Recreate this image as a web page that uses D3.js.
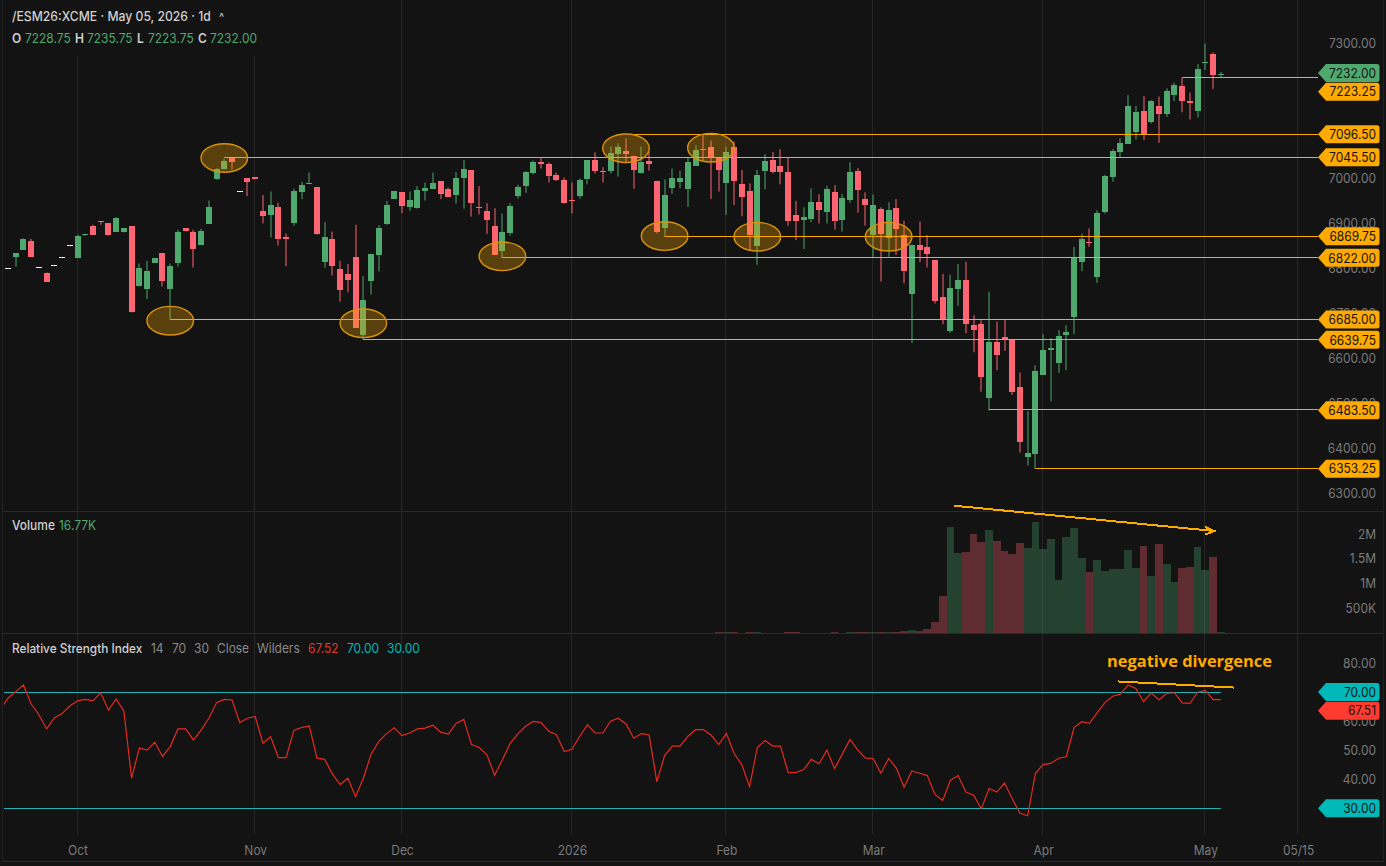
<!DOCTYPE html>
<html>
<head>
<meta charset="utf-8">
<script src="https://cdn.jsdelivr.net/npm/d3@7"></script>
<style>
  html, body { margin: 0; padding: 0; background: #131313; overflow: hidden; }
  text { font-family: Inter, "Noto Sans", sans-serif; }
</style>
</head>
<body>
<svg id="chart" width="1386" height="866"></svg>
<script>
// daily OHLC
var opens = [6801,6825,6840,6860,6801.5,6790,6807,6824,6850,6822,6873,6894,6904,6899,6881,6879,6893,6759,6752,6812,
  6833,6755,6811,6888,6880,6852,6899,6996,7019,7045,6970,6999,7002,6926,6916,6935,6870,6901,6970,6988,
  6979,6813,6864,6797,6787,6824,6651,6770,6830,6896,6953,6968,6936,6934,6970,6976,6993,6976,6964,6999,
  7017,6935,6927,6893,6836,6876,6961,6981,7010,7035,7032,7006,6996,6951,6960,6996,7039,7016,7016,7055,
  7061,7050,7010,7037,6994,6890,6977,6990,6976,7027,7064,7070,7046,6988,7070,6986,6970,6848,7014,7040,
  7027,7013,6917,6906,6910,6946,6925,6969,6907,6951,7015,6954,6873,6931,6865,6933,6873,6743,6850,6846,
  6818,6735,6661,6752,6774,6673,6675,6510,6635,6647,6641,6536,6381,6386,6562,6618,6590,6651,6690,6814,
  6858,6780,6924,7003,7056,7076,7102,7150,7124,7161,7143,7184,7204,7172,7150,7255,7276,7228.75];
var highs = [6801,6833,6866,6865,6801.5,6790,6807,6824,6850,6874,6876,6896,6904,6899,6913,6888,6893,6810,6816,6822,
  6833,6810,6885,6888,6885,6887,6950,7022,7042,7045.5,6970,6999,7002,6962,6970,6945,6877,6976,6992,7012,
  6979,6902,6881,6816,6809,6896,6782,6831,6895,6949,6970,6968,6970,6982,6990,7012,6993,6979,7013,7040,
  7017,6982,6944,6933,6921,6944,6985,7015,7039,7045,7035,7012,7001,6990,6999,7040,7057,7024,7070,7077,
  7088,7050,7070,7059,6994,6997,7021,7016,7047,7073,7096,7083,7046,7070,7081,7018,6988,7018,7053,7058,
  7064,7045,6949,6935,6977,6964,6983,6984,6964,7035,7022,6968,6963,6935,6946,6953,6905,6852,6903,6873,
  6818,6787,6785,6809,6814,6695,6684,6747,6681,6685,6641,6568,6482,6584,6653,6644,6662,6673,6847,6876,
  6888,6928,7007,7064,7088,7184,7160,7182,7173,7181,7199,7212,7223,7190,7253,7299,7279,7235.75];
var lows = [6801,6803,6840,6825,6801.5,6771,6807,6824,6850,6822,6871,6874,6896,6872,6881,6879,6701,6759,6731,6812,
  6759,6685,6803,6881,6801,6852,6899,6996,7019,7019,6970,6960,6997,6899,6868,6850,6804,6894,6953,6988,
  6874,6801,6783,6725,6746,6667,6640,6741,6792,6896,6953,6922,6927,6932,6950,6976,6953,6957,6943,6932,
  6914,6919,6876,6829,6822,6872,6954,6967,7008,7021,6990,6993,6943,6921,6954,6986,7010,6990,7010,7003,
  7033,6976,7010,7016,6877,6870,6965,6977,6936,7027,7040,6953,6970,6918,6940,6915,6840,6807,6975,7010,
  6986,6894,6862,6842,6902,6899,6899,6885,6881,6945,6923,6894,6822,6770,6825,6829,6766,6633,6813,6801,
  6721,6675,6656,6716,6655,6613,6525,6483.5,6573,6616,6518,6390,6361,6353.25,6562,6504,6567,6573,6653,6793,
  6847,6767,6921,6992,7047,7076,7086,7084,7121,7078,7136,7171,7146,7130,7134,7240,7198,7223.75];
var closes = [6801,6833,6864,6825,6801.5,6771,6807,6824,6850,6871,6876,6874,6901,6872,6911,6888,6701,6800,6793,6822,
  6770,6805,6880,6881,6843,6882,6936,7019,7037,7036,6970,6990,6997,6915,6939,6865,6866,6972,6985,6990,
  6874,6868,6804,6750,6773,6667,6728,6831,6890,6939,6970,6936,6951,6973,6977,6990,6965,6959,7001,7019,
  6943,6932,6907,6829,6879,6937,6981,7013,7035,7030,7006,6996,6944,6950,6995,7039,7015,7015,7056,7070,
  7055,7019,7035,7030,6881,6963,6999,6999,7036,7062,7061,7046,7018,7057,6995,6958,6873,7006,7037,7014,
  7014,6904,6903,6913,6947,6929,6976,6904,6956,7013,6972,6941,6940,6876,6928,6887,6794,6852,6839,6830,
  6727,6686,6756,6773,6677,6661,6558,6635,6606,6642,6525,6413,6389,6571,6618,6622,6650,6658,6824,6864,
  6856,6922,7004,7060,7077,7161,7147,7099,7171,7143,7194,7206,7170,7167,7243,7258,7229,7232];

var volumes = [3000,2000,4000,3000,2000,5000,3000,2000,4000,3000,2000,3000,4000,3000,2000,4000,9000,6000,5000,3000,
  5000,4000,6000,3000,4000,3000,5000,4000,3000,4000,2000,3000,2000,4000,5000,6000,4000,5000,3000,3000,
  7000,6000,5000,4000,3000,8000,9000,6000,5000,4000,3000,3000,2000,3000,3000,3000,3000,2000,4000,4000,
  5000,3000,4000,7000,8000,5000,4000,4000,3000,2000,3000,2000,4000,3000,3000,4000,4000,3000,5000,4000,
  4000,5000,4000,4000,9000,9000,5000,5000,6000,6000,7000,8000,14000,16000,12000,10000,14000,15000,9000,8000,
  9000,13000,11000,9000,10000,9000,10000,12000,10000,11000,12000,11000,15000,16000,20000,20000,40000,61000,40000,81000,
  222000,747000,2140000,1622000,1642000,1999000,1844000,2080000,1857000,1656000,1595000,1817000,1723000,2241000,1703000,1898000,1070000,1938000,2120000,1521000,
  1232000,1474000,1252000,1292000,1292000,1676000,1319000,1757000,1151000,1797000,1393000,1036000,1312000,1333000,1743000,1279000,1534000,16770];

// first value belongs to the bar just before the left edge
var rsi = [64.1,68.0,70.3,72.6,66.0,62.3,57.4,61.2,62.7,65.3,67.1,67.6,67.1,69.9,63.9,67.7,63.6,40.4,50.8,50.1,52.8,
  47.9,51.3,57.4,57.4,53.6,57.0,61.1,66.5,67.6,67.4,59.6,61.1,61.7,52.5,54.7,47.5,47.5,56.9,57.9,58.4,
  47.3,46.9,41.8,38.2,40.4,34.0,40.4,48.7,53.1,55.8,57.8,55.1,56.0,57.4,57.7,58.7,56.3,55.6,59.3,60.7,
  52.0,51.0,48.5,41.4,46.7,52.4,55.7,58.3,60.0,59.6,56.6,55.4,49.6,50.4,54.8,58.9,56.0,56.0,60.1,61.1,
  59.1,54.2,55.8,55.3,39.1,48.2,51.5,51.5,54.8,57.2,57.2,55.3,52.0,55.8,48.9,45.0,37.5,51.0,53.4,51.5,
  51.5,42.3,42.3,43.4,46.9,45.4,50.1,43.7,48.7,53.8,50.2,47.3,47.2,42.1,47.2,43.9,37.3,42.9,42.1,41.3,
  34.8,32.7,39.7,41.3,35.6,34.5,29.8,36.8,35.6,38.7,33.3,28.3,27.4,42.1,45.1,45.5,47.3,47.8,57.9,59.9,
  59.3,63.0,66.5,68.7,69.4,72.6,71.4,66.9,69.9,67.4,69.7,69.9,66.4,66.2,70.1,70.7,67.5,67.52];

// axis ticks
var priceTicks = [7300,7200,7100,7000,6900,6800,6700,6600,6500,6400,6300];
var volumeTicks = [2000000,1500000,1000000,500000];
var volumeTickLabels = ["2M","1.5M","1M","500K"];
var rsiTicks = [80,60,50,40];
var timeTicks = [9,32,51,73,93,112,134,155,167];
var timeTickLabels = ["Oct","Nov","Dec","2026","Feb","Mar","Apr","May","05/15"];

// drawn levels: price, bar the line starts from
var levelPrices = [7223.25,7096.5,7045.5,6869.75,6822,6685,6639.75,6483.5,6353.25];
var levelStarts = [152,81,28,85,64,21,46,127,133];
var levelNudge = [14.5,0,0,0,0,0,0,0,0];

// circled spots: bar, price
var circleBars = [28,21,46,64,80,85,91,97,114];
var circlePrices = [7044.4,6682.9,6677.1,6826,7066,6871,7067.3,6869.6,6869.6];

// hand drawn trend lines
var volumeTrendBars = [122.46,156.15];
var volumeTrendValues = [2572000,2060000];
var rsiTrendBars = [143.7,158.7];
var rsiTrendValues = [73.8,71.7];

var bg = "#131313", gridColor = "#262626", axisColor = "#7a7a7a";
var green = "#4fa96f", red = "#ff6473", orange = "#ffaa00", teal = "#00b8b8";

var svg = d3.select("#chart");
svg.append("rect").attr("width", 1386).attr("height", 866).attr("fill", bg);

var x = d3.scaleLinear().domain([0, 157]).range([8, 1220.8]);
var yPrice = d3.scaleLinear().domain([6300, 7300]).range([493, 43]);
var yVolume = d3.scaleLinear().domain([0, 2000000]).range([633, 534]);
var yRsi = d3.scaleLinear().domain([30, 80]).range([808.3, 663.5]);

// month grid, the legend block hides the top of the first two
svg.append("g").selectAll("line").data(timeTicks).join("line")
  .attr("x1", d => Math.round(x(d)) - 0.5).attr("x2", d => Math.round(x(d)) - 0.5)
  .attr("y1", (d, i) => i < 2 ? 56 : 0).attr("y2", 834)
  .attr("stroke", gridColor);

// panel rules
[511.5, 633.5, 861.5].forEach(function (y) {
  svg.append("line").attr("x1", 2).attr("x2", 1383).attr("y1", y).attr("y2", y).attr("stroke", "#2a2a2a");
});
[2.5, 1383.5].forEach(function (v) {
  svg.append("line").attr("x1", v).attr("x2", v).attr("y1", 0).attr("y2", 862).attr("stroke", "#222222");
});

// volume
svg.append("g").selectAll("rect").data(volumes).join("rect")
  .attr("x", (d, i) => x(i) - 3.86)
  .attr("width", 7.725)
  .attr("y", d => yVolume(d))
  .attr("height", d => 633 - yVolume(d))
  .attr("fill", (d, i) => closes[i] >= opens[i] ? green : red)
  .attr("opacity", 0.32)
  .attr("shape-rendering", "crispEdges");

// candles
var candle = svg.append("g").selectAll("g").data(opens).join("g");
candle.append("line")
  .attr("x1", (d, i) => Math.round(x(i))).attr("x2", (d, i) => Math.round(x(i)))
  .attr("y1", (d, i) => yPrice(highs[i])).attr("y2", (d, i) => yPrice(lows[i]))
  .attr("stroke", (d, i) => closes[i] >= opens[i] ? green : red)
  .attr("stroke-width", 1);
candle.append("rect")
  .attr("x", (d, i) => Math.round(x(i)) - 3)
  .attr("width", 6)
  .attr("y", (d, i) => Math.round(yPrice(Math.max(opens[i], closes[i]))))
  .attr("height", (d, i) => Math.max(1, Math.round(Math.abs(opens[i] - closes[i]) * 0.45)))
  .attr("fill", (d, i) => closes[i] == opens[i] ? "#ffffff" : closes[i] > opens[i] ? green : red);

// level lines
svg.append("g").selectAll("line").data(levelPrices).join("line")
  .attr("x1", (d, i) => x(levelStarts[i])).attr("x2", 1318)
  .attr("y1", d => Math.floor(yPrice(d) - 0.5) + 0.5).attr("y2", d => Math.floor(yPrice(d) - 0.5) + 0.5)
  .attr("stroke", orange).attr("stroke-width", 1);

// ellipses
svg.append("g").selectAll("ellipse").data(circleBars).join("ellipse")
  .attr("cx", d => x(d))
  .attr("cy", (d, i) => yPrice(circlePrices[i]))
  .attr("rx", 23.3).attr("ry", 14.3)
  .attr("fill", orange).attr("fill-opacity", 0.3)
  .attr("stroke", "#d9920c").attr("stroke-width", 1.4);

// axes, the library draws the labels, the lines are dropped
function cleanAxis(g) {
  g.select(".domain").remove();
  g.selectAll(".tick line").remove();
  g.selectAll("text").attr("class", "squeeze").attr("fill", axisColor).attr("font-size", 13).attr("font-family", "Inter");
}
svg.append("g").attr("transform", "translate(1300,0)")
  .call(d3.axisRight(yPrice).tickValues(priceTicks).tickFormat(d3.format(".2f")))
  .call(cleanAxis)
  .selectAll("text").attr("x", 76).attr("text-anchor", "end");
svg.append("g").attr("transform", "translate(1300,0)")
  .call(d3.axisRight(yVolume).tickValues(volumeTicks).tickFormat((d, i) => volumeTickLabels[i]))
  .call(cleanAxis)
  .selectAll("text").attr("x", 76).attr("text-anchor", "end");
svg.append("g").attr("transform", "translate(1300,0)")
  .call(d3.axisRight(yRsi).tickValues(rsiTicks).tickFormat(d3.format(".2f")))
  .call(cleanAxis)
  .selectAll("text").attr("x", 76).attr("text-anchor", "end");
svg.append("g").attr("transform", "translate(0,838)")
  .call(d3.axisBottom(x).tickValues(timeTicks).tickFormat((d, i) => timeTickLabels[i]))
  .call(cleanAxis)
  .selectAll("text").attr("y", 8).attr("dy", "0.71em");

// price tags
function tag(yMid, label, color) {
  svg.append("path")
    .attr("d", `M1318 ${yMid} L1326 ${yMid - 9} H1377 Q1379.5 ${yMid - 9} 1379.5 ${yMid - 6.5} V${yMid + 6.5} Q1379.5 ${yMid + 9} 1377 ${yMid + 9} H1326 Z`)
    .attr("fill", color);
  svg.append("text").attr("class", "squeeze").attr("x", 1376).attr("y", yMid + 4.7)
    .attr("text-anchor", "end").attr("font-size", 13).attr("fill", "#131313").text(label);
}
tag(yPrice(closes[157]) - 0.5, d3.format(".2f")(closes[157]), green);
levelPrices.forEach((p, i) => tag(yPrice(p) - 0.3 + levelNudge[i], d3.format(".2f")(p), orange));
tag(yRsi(70) - 0.5, "70.00", teal);
tag(yRsi(30), "30.00", teal);
tag(yRsi(67.51) + 11, "67.51", "#ff3b30");

// rsi panel
svg.append("defs").append("clipPath").attr("id", "rsiClip")
  .append("rect").attr("x", 4).attr("y", 640).attr("width", 1300).attr("height", 200);
[70, 30].forEach(function (v) {
  svg.append("line").attr("x1", 4).attr("x2", x(157))
    .attr("y1", Math.round(yRsi(v)) + 0.5).attr("y2", Math.round(yRsi(v)) + 0.5)
    .attr("stroke", "#1fb5b5");
});
var rsiLine = d3.line().x((d, i) => x(i - 1)).y(d => yRsi(d));
svg.append("path").datum(rsi)
  .attr("d", rsiLine)
  .attr("clip-path", "url(#rsiClip)")
  .attr("fill", "none").attr("stroke", "#e32b22").attr("stroke-width", 1.2);

// trend annotations, aliased like the original drawing tool
svg.append("line")
  .attr("x1", x(volumeTrendBars[0])).attr("y1", yVolume(volumeTrendValues[0]))
  .attr("x2", x(volumeTrendBars[1])).attr("y2", yVolume(volumeTrendValues[1]))
  .attr("stroke", orange).attr("stroke-width", 2).attr("shape-rendering", "crispEdges");
var tipX = x(volumeTrendBars[1]), tipY = yVolume(volumeTrendValues[1]);
svg.append("path")
  .attr("d", `M${tipX - 9} ${tipY - 4} L${tipX} ${tipY} L${tipX - 9} ${tipY + 3.5}`)
  .attr("fill", "none").attr("stroke", orange).attr("stroke-width", 2).attr("shape-rendering", "crispEdges");
svg.append("line")
  .attr("x1", x(rsiTrendBars[0])).attr("y1", yRsi(rsiTrendValues[0]))
  .attr("x2", x(rsiTrendBars[1])).attr("y2", yRsi(rsiTrendValues[1]))
  .attr("stroke", orange).attr("stroke-width", 2).attr("shape-rendering", "crispEdges");
svg.append("text").attr("x", 1107).attr("y", 667)
  .attr("style", "font-family:'Open Sans'").attr("font-weight", 700).attr("font-size", 16.5)
  .attr("textLength", 165).attr("lengthAdjust", "spacingAndGlyphs")
  .attr("fill", orange).text("negative divergence");

// header and panel legends
function legend(y, parts) {
  parts.forEach(function (p) {
    svg.append("text").attr("class", "squeeze").attr("x", p[0]).attr("y", y)
      .attr("font-size", p[4] || 13).attr("font-weight", p[3] || 400)
      .attr("fill", p[2]).text(p[1]);
  });
}
var lightText = "#cfcfcf", dimText = "#8a8a8a", valueGreen = "#4fa96f";
legend(20.5, [[12, "/ESM26:XCME · May 05, 2026 · 1d", lightText, 500, 13.25], [219, "^", lightText, 400, 12]]);
legend(42.5, [[12, "O", lightText, 600], [25, "7228.75", valueGreen], [75, "H", lightText, 600], [87, "7235.75", valueGreen],
  [137, "L", lightText, 600], [148, "7223.75", valueGreen], [198, "C", lightText, 600], [210, "7232.00", valueGreen]]);
legend(529.5, [[12, "Volume", lightText, 500], [59, "16.77K", valueGreen]]);
legend(652.5, [[12, "Relative Strength Index", lightText, 500, 12.85], [151, "14", dimText], [172, "70", dimText], [194, "30", dimText],
  [217, "Close", dimText], [257, "Wilders", dimText], [308, "67.52", "#e0392f"], [347, "70.00", teal], [387, "30.00", teal]]);

// the source screenshot is a little narrower than tall, so the glyphs are too
svg.selectAll("text.squeeze").each(function () {
  d3.select(this)
    .attr("textLength", this.getComputedTextLength() * 0.92)
    .attr("lengthAdjust", "spacingAndGlyphs");
});
</script>
</body>
</html>
